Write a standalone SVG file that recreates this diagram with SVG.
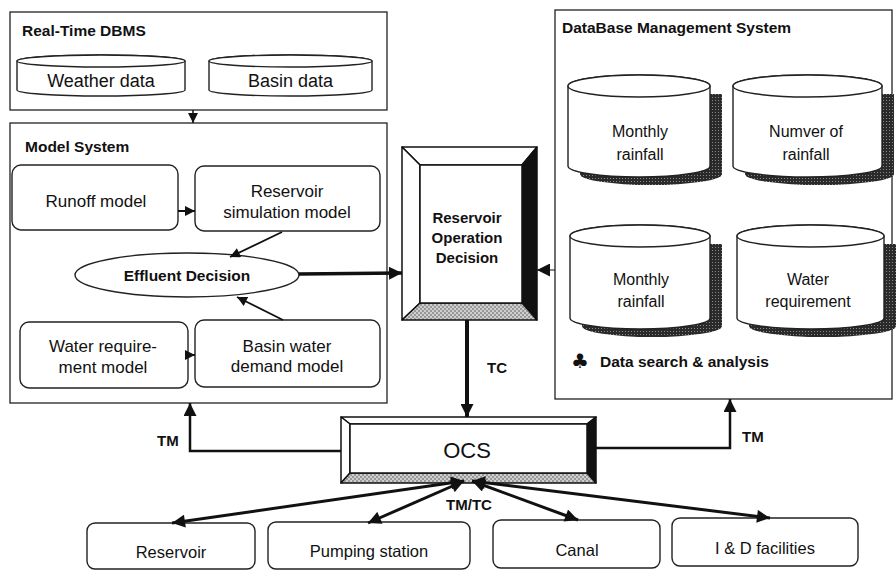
<svg xmlns="http://www.w3.org/2000/svg" width="896" height="572" viewBox="0 0 896 572">
<style>
text{font-family:"Liberation Sans",Arial,sans-serif;fill:#111}
.t{font-size:16px}
.m{font-size:17px;text-anchor:middle}
.c{font-size:16px;text-anchor:middle}
.b{font-weight:bold;font-size:15px}
.bc{font-weight:bold;font-size:15px;text-anchor:middle}
.frame{fill:none;stroke:#222;stroke-width:1.3}
.box{fill:#fff;stroke:#222;stroke-width:1.4}
.cyl{fill:#fff;stroke:#222;stroke-width:1.4}
.shd{fill:url(#sd);stroke:none}
.ln{fill:none;stroke:#111;stroke-linejoin:miter}
.bev{stroke:#111;stroke-width:1.5;stroke-linejoin:round}
</style>
<defs>
<pattern id="st" width="4" height="4" patternUnits="userSpaceOnUse"><rect width="4" height="4" fill="#cfcfcf"/><circle cx="1" cy="1" r="0.8" fill="#555"/><circle cx="3" cy="3" r="0.8" fill="#555"/></pattern>
<pattern id="sd" width="3" height="3" patternUnits="userSpaceOnUse"><rect width="3" height="3" fill="#2a2a2a"/><rect x="1" y="1" width="1" height="1" fill="#888"/></pattern>
<marker id="a" viewBox="0 0 10 10" refX="10" refY="5" markerWidth="15" markerHeight="13" orient="auto-start-reverse" markerUnits="userSpaceOnUse"><path d="M0,0 L10,5 L0,10 z" fill="#111"/></marker>
<marker id="s" viewBox="0 0 10 10" refX="10" refY="5" markerWidth="11" markerHeight="10" orient="auto-start-reverse" markerUnits="userSpaceOnUse"><path d="M0,0 L10,5 L0,10 z" fill="#111"/></marker>
</defs>
<rect width="896" height="572" fill="#fff"/>

<g id="realtime-dbms">
<rect class="frame" x="10" y="12" width="377" height="98"/>
<text class="b" x="22" y="36" style="font-size:15.5px">Real-Time DBMS</text>
<g id="weather-data">
<path class="cyl" d="M17,61 V90 A84,6 0 0 0 185,90 V61 A84,6 0 0 0 17,61 Z"/>
<ellipse class="cyl" cx="101" cy="61" rx="84" ry="6"/>
<text class="m" x="101" y="87" style="font-size:18px">Weather data</text>
</g>
<g id="basin-data">
<path class="cyl" d="M209,61 V90 A81.5,6 0 0 0 372,90 V61 A81.5,6 0 0 0 209,61 Z"/>
<ellipse class="cyl" cx="290.5" cy="61" rx="81.5" ry="6"/>
<text class="m" x="290.5" y="87" style="font-size:18px">Basin data</text>
</g>
</g>

<g id="model-system">
<rect class="frame" x="10" y="123" width="377" height="280"/>
<text class="b" x="25" y="152" style="font-size:15.5px">Model System</text>
<g id="runoff-model">
<rect class="box" x="12" y="165" width="166" height="65" rx="9"/>
<text class="m" x="96" y="207">Runoff model</text>
</g>
<g id="reservoir-simulation-model">
<rect class="box" x="195" y="166" width="185" height="65" rx="9"/>
<text class="m" x="287" y="197">Reservoir</text>
<text class="m" x="287" y="218">simulation model</text>
</g>
<g id="effluent-decision">
<ellipse class="box" cx="187" cy="275" rx="112" ry="22"/>
<text class="bc" x="187" y="281" style="font-size:15.5px">Effluent Decision</text>
</g>
<g id="water-requirement-model">
<rect class="box" x="20" y="322" width="168" height="66" rx="9"/>
<text class="m" x="103" y="352">Water require-</text>
<text class="m" x="103" y="373">ment model</text>
</g>
<g id="basin-water-demand-model">
<rect class="box" x="195" y="320" width="185" height="67" rx="9"/>
<text class="m" x="287" y="352">Basin water</text>
<text class="m" x="287" y="372">demand model</text>
</g>
</g>

<g id="reservoir-operation-decision">
<rect x="402" y="147" width="135" height="173" fill="#fff"/>
<polygon class="bev" points="402,147 537,147 522,165 420,165" fill="#fff"/>
<polygon class="bev" points="402,147 420,165 420,303 402,320" fill="#fff"/>
<polygon class="bev" points="537,147 537,320 522,303 522,165" fill="#111"/>
<polygon class="bev" points="402,320 537,320 522,303 420,303" fill="url(#st)"/>
<rect x="420" y="165" width="102" height="138" fill="#fff" stroke="#111" stroke-width="1.5"/>
<text class="bc" x="467" y="223">Reservoir</text>
<text class="bc" x="467" y="243">Operation</text>
<text class="bc" x="467" y="263">Decision</text>
</g>

<g id="dbms">
<rect class="frame" x="555" y="10" width="337" height="389"/>
<text class="b" x="562" y="33" style="font-size:15.5px">DataBase Management System</text>
<g id="monthly-rainfall-1">
<path class="shd" d="M580,94 V174 A71,11 0 0 0 722,174 V94 Z"/>
<path class="cyl" d="M568,86 V166 A71,11 0 0 0 710,166 V86 A71,11 0 0 0 568,86 Z"/>
<ellipse class="cyl" cx="639" cy="86" rx="71" ry="11"/>
<text class="c" x="640" y="137">Monthly</text>
<text class="c" x="640" y="160">rainfall</text>
</g>
<g id="number-of-rainfall">
<path class="shd" d="M745,94 V174 A74.5,11 0 0 0 894,174 V94 Z"/>
<path class="cyl" d="M733,86 V166 A74.5,11 0 0 0 882,166 V86 A74.5,11 0 0 0 733,86 Z"/>
<ellipse class="cyl" cx="807.5" cy="86" rx="74.5" ry="11"/>
<text class="c" x="806" y="137">Numver of</text>
<text class="c" x="806" y="160">rainfall</text>
</g>
<g id="monthly-rainfall-2">
<path class="shd" d="M582,244 V326 A70,11 0 0 0 722,326 V244 Z"/>
<path class="cyl" d="M570,236 V318 A70,11 0 0 0 710,318 V236 A70,11 0 0 0 570,236 Z"/>
<ellipse class="cyl" cx="640" cy="236" rx="70" ry="11"/>
<text class="c" x="641" y="285">Monthly</text>
<text class="c" x="641" y="307">rainfall</text>
</g>
<g id="water-requirement">
<path class="shd" d="M749,244 V326 A73.5,11 0 0 0 896,326 V244 Z"/>
<path class="cyl" d="M737,236 V318 A73.5,11 0 0 0 884,318 V236 A73.5,11 0 0 0 737,236 Z"/>
<ellipse class="cyl" cx="810.5" cy="236" rx="73.5" ry="11"/>
<text class="c" x="808" y="285">Water</text>
<text class="c" x="808" y="307">requirement</text>
</g>
<text x="571" y="368" style="font-family:'DejaVu Sans',sans-serif;font-size:20px">♣</text>
<text class="b" x="600" y="367" style="font-size:15.5px">Data search &amp; analysis</text>
</g>

<g id="ocs">
<rect x="341" y="417" width="255" height="66" fill="#fff"/>
<polygon class="bev" points="341,417 596,417 587,424 350,424" fill="#fff"/>
<polygon class="bev" points="341,417 350,424 350,473 341,483" fill="#fff"/>
<polygon class="bev" points="596,417 596,483 587,473 587,424" fill="#111"/>
<polygon class="bev" points="341,483 596,483 587,473 350,473" fill="url(#st)"/>
<rect x="350" y="424" width="237" height="49" fill="#fff" stroke="#111" stroke-width="1.5"/>
<text x="467" y="458" style="font-size:22px;text-anchor:middle">OCS</text>
</g>

<g id="reservoir">
<rect class="box" x="87" y="523" width="168" height="46" rx="8"/>
<text class="m" x="171" y="558" style="font-size:16.5px">Reservoir</text>
</g>
<g id="pumping-station">
<rect class="box" x="268" y="522" width="202" height="47" rx="8"/>
<text class="m" x="369" y="557" style="font-size:16.5px">Pumping station</text>
</g>
<g id="canal">
<rect class="box" x="493" y="520" width="167" height="48" rx="8"/>
<text class="m" x="577" y="556" style="font-size:16.5px">Canal</text>
</g>
<g id="id-facilities">
<rect class="box" x="672" y="518" width="186" height="48" rx="8"/>
<text class="m" x="765" y="554" style="font-size:16.5px">I &amp; D facilities</text>
</g>

<g id="connectors">
<line class="ln" x1="193" y1="110" x2="193" y2="123" stroke-width="1.5" marker-end="url(#s)"/>
<line class="ln" x1="178" y1="211" x2="195" y2="211" stroke-width="2" marker-end="url(#s)"/>
<line class="ln" x1="188" y1="355" x2="195" y2="355" stroke-width="2" marker-end="url(#s)"/>
<line class="ln" x1="282" y1="232" x2="230" y2="257" stroke-width="1.8" marker-end="url(#s)"/>
<line class="ln" x1="283" y1="320" x2="237" y2="297" stroke-width="1.8" marker-end="url(#s)"/>
<line class="ln" x1="299" y1="274" x2="402" y2="273" stroke-width="3.5" marker-end="url(#a)"/>
<line class="ln" x1="555" y1="270" x2="537" y2="270" stroke-width="1" marker-end="url(#a)"/>
<line class="ln" x1="467" y1="320" x2="467" y2="417" stroke-width="4" marker-end="url(#a)"/>
<text class="b" x="487" y="373">TC</text>
<polyline class="ln" points="341,451 190,451 190,403" stroke-width="2.5" marker-end="url(#a)"/>
<text class="b" x="157" y="446">TM</text>
<polyline class="ln" points="596,448 730,448 730,399" stroke-width="2.5" marker-end="url(#a)"/>
<text class="b" x="742" y="442">TM</text>
<line class="ln" x1="464" y1="481" x2="172" y2="523" stroke-width="3" marker-start="url(#a)" marker-end="url(#a)"/>
<line class="ln" x1="464" y1="481" x2="368" y2="523" stroke-width="3" marker-start="url(#a)" marker-end="url(#a)"/>
<line class="ln" x1="472" y1="481" x2="578" y2="520" stroke-width="3" marker-start="url(#a)" marker-end="url(#a)"/>
<line class="ln" x1="472" y1="481" x2="770" y2="518" stroke-width="3" marker-start="url(#a)" marker-end="url(#a)"/>
<text class="bc" x="469" y="510">TM/TC</text>
</g>
</svg>
